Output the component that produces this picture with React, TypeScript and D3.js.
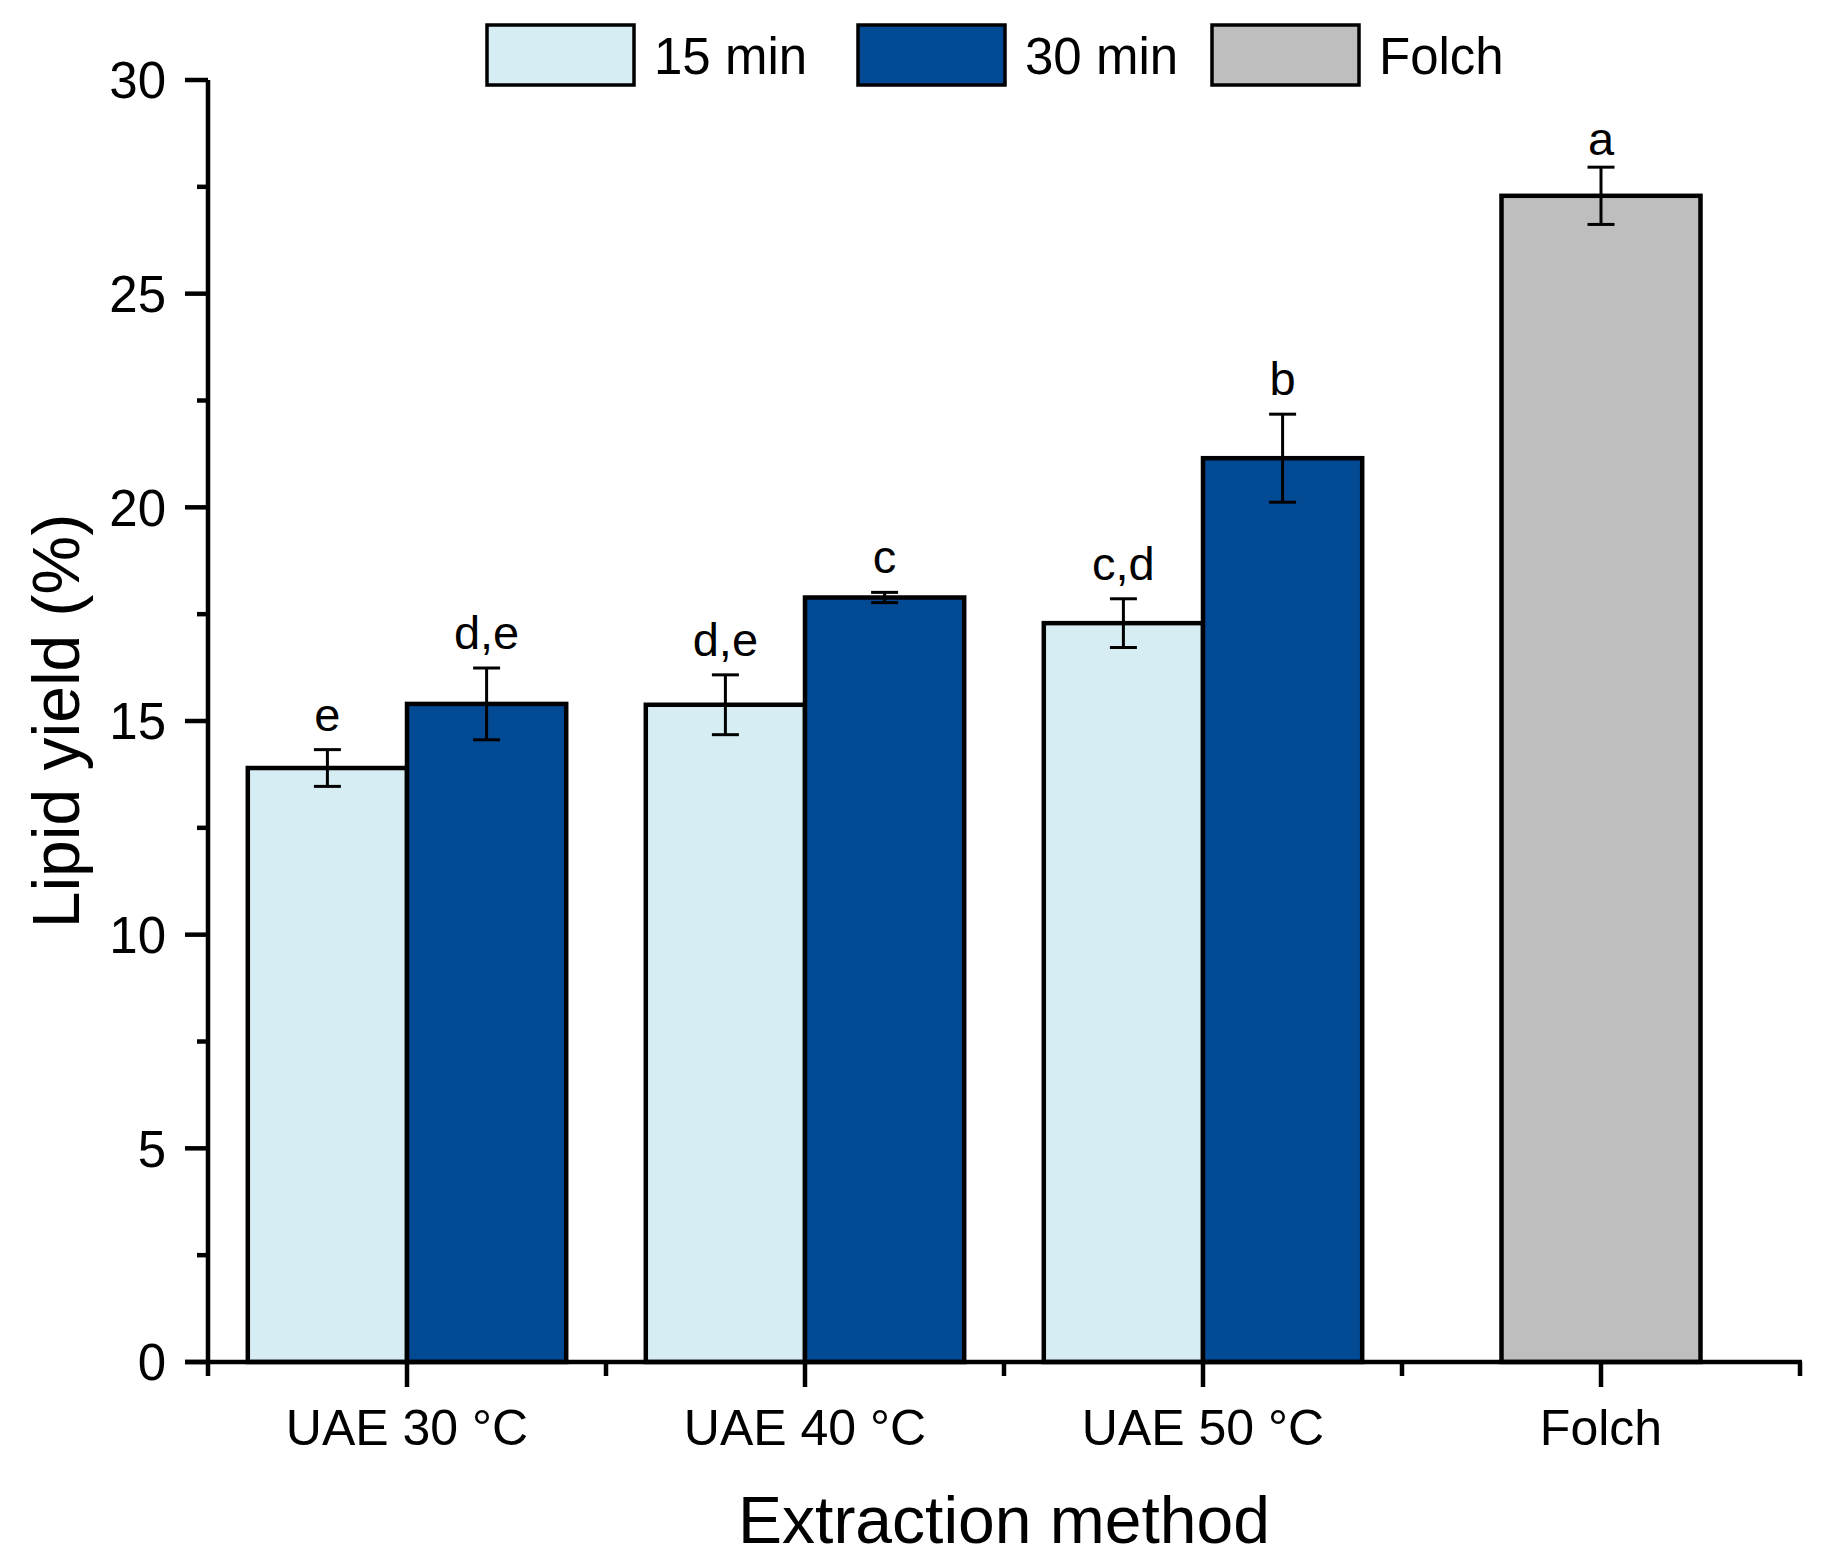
import React from "react";
import * as d3 from "d3";

const categories = ["UAE 30 °C", "UAE 40 °C", "UAE 50 °C", "Folch"];
const uaeCategories = ["UAE 30 °C", "UAE 40 °C", "UAE 50 °C"];
const seriesNames = ["15 min", "30 min"];
const values15 = [13.9, 15.38, 17.29];
const errors15 = [0.43, 0.7, 0.57];
const letters15 = ["e", "d,e", "c,d"];
const values30 = [15.4, 17.89, 21.15];
const errors30 = [0.84, 0.12, 1.03];
const letters30 = ["d,e", "c", "b"];
const folchValue = 27.29;
const folchError = 0.67;
const folchLetter = "a";
const legendLabels = ["15 min", "30 min", "Folch"];
const yTicks = [0, 5, 10, 15, 20, 25, 30];
const yMinorTicks = [2.5, 7.5, 12.5, 17.5, 22.5, 27.5];

const COLORS = { "15 min": "#D6EEF3", "30 min": "#034A94", Folch: "#BEBEBE" };
const FONT = "'Liberation Sans', Arial, Helvetica, sans-serif";

export default function App() {
  const W = 1822;
  const H = 1566;
  const left = 208;
  const right = 1800;
  const top = 80;
  const bottom = 1362;

  const x = d3.scaleBand<string>().domain(categories).range([left, right]).paddingInner(0).paddingOuter(0);
  const bw = x.bandwidth();
  const xs = d3.scaleBand<string>().domain(seriesNames).range([0, bw]).paddingInner(0).paddingOuter(0.25);
  const y = d3.scaleLinear().domain([0, 30]).range([bottom, top]);

  const bars: any[] = [];
  uaeCategories.forEach((c, i) => {
    bars.push({ cat: c, s: "15 min", v: values15[i], e: errors15[i], l: letters15[i], x0: (x(c) as number) + (xs("15 min") as number), w: xs.bandwidth(), gap: 19 });
    bars.push({ cat: c, s: "30 min", v: values30[i], e: errors30[i], l: letters30[i], x0: (x(c) as number) + (xs("30 min") as number), w: xs.bandwidth(), gap: 19 });
  });
  const fw = bw * 0.5;
  bars.push({ cat: "Folch", s: "Folch", v: folchValue, e: folchError, l: folchLetter, x0: (x("Folch") as number) + (bw - fw) / 2, w: fw, gap: 12 });

  const minorX = d3.range(categories.length + 1).map((i) => left + i * bw);

  const legendBoxX = [487, 858, 1212];

  return (
    <svg width={W} height={H} style={{ position: "absolute", left: 0, top: 0, background: "#fff" }} fontFamily={FONT}>
      <rect x={0} y={0} width={W} height={H} fill="#fff" />
      {/* bars */}
      {bars.map((b, i) => (
        <rect key={"b" + i} x={b.x0} y={y(b.v)} width={b.w} height={y(0) - y(b.v)} fill={(COLORS as any)[b.s]} stroke="#000" strokeWidth={4.5} />
      ))}
      {/* error bars */}
      {bars.map((b, i) => {
        const cx = b.x0 + b.w / 2;
        const y1 = y(b.v + b.e);
        const y2 = y(b.v - b.e);
        return (
          <g key={"e" + i} stroke="#000" strokeWidth={3}>
            <line x1={cx} x2={cx} y1={y1} y2={y2} />
            <line x1={cx - 13.5} x2={cx + 13.5} y1={y1} y2={y1} />
            <line x1={cx - 13.5} x2={cx + 13.5} y1={y2} y2={y2} />
          </g>
        );
      })}
      {/* letters */}
      {bars.map((b, i) => (
        <text key={"l" + i} x={b.x0 + b.w / 2} y={y(b.v + b.e) - b.gap} textAnchor="middle" fontSize={47} fill="#000">
          {b.l}
        </text>
      ))}
      {/* axes */}
      <g stroke="#000" strokeWidth={4.5}>
        <line x1={left} x2={left} y1={top} y2={bottom} />
        {yTicks.map((t) => (
          <line key={"yt" + t} x1={left - 23} x2={left} y1={y(t)} y2={y(t)} />
        ))}
        {yMinorTicks.map((t) => (
          <line key={"ym" + t} x1={left - 11} x2={left} y1={y(t)} y2={y(t)} />
        ))}
        <line x1={left - 23} x2={right + 2} y1={bottom} y2={bottom} />
        {categories.map((c) => {
          const cx = (x(c) as number) + bw / 2;
          return <line key={"xt" + c} x1={cx} x2={cx} y1={bottom} y2={bottom + 25} />;
        })}
        {minorX.map((mx, i) => (
          <line key={"xm" + i} x1={mx} x2={mx} y1={bottom} y2={bottom + 14} />
        ))}
      </g>
      {yTicks.map((t) => (
        <text key={"ytl" + t} x={166} y={y(t)} dy="0.36em" textAnchor="end" fontSize={51} fill="#000">
          {t}
        </text>
      ))}
      {categories.map((c) => (
        <text key={"xtl" + c} x={(x(c) as number) + bw / 2} y={1445} textAnchor="middle" fontSize={50} fill="#000">
          {c}
        </text>
      ))}
      {/* axis titles */}
      <text x={(left + right) / 2} y={1543} textAnchor="middle" fontSize={66} fill="#000">
        Extraction method
      </text>
      <text transform={`translate(79, ${(top + bottom) / 2}) rotate(-90)`} textAnchor="middle" fontSize={66} fill="#000">
        Lipid yield (%)
      </text>
      {/* legend */}
      {legendLabels.map((l, i) => (
        <g key={"lg" + i}>
          <rect x={legendBoxX[i]} y={25} width={147} height={60} fill={(COLORS as any)[l]} stroke="#000" strokeWidth={3.5} />
          <text x={legendBoxX[i] + 167} y={74} fontSize={51} fill="#000">
            {l}
          </text>
        </g>
      ))}
    </svg>
  );
}
